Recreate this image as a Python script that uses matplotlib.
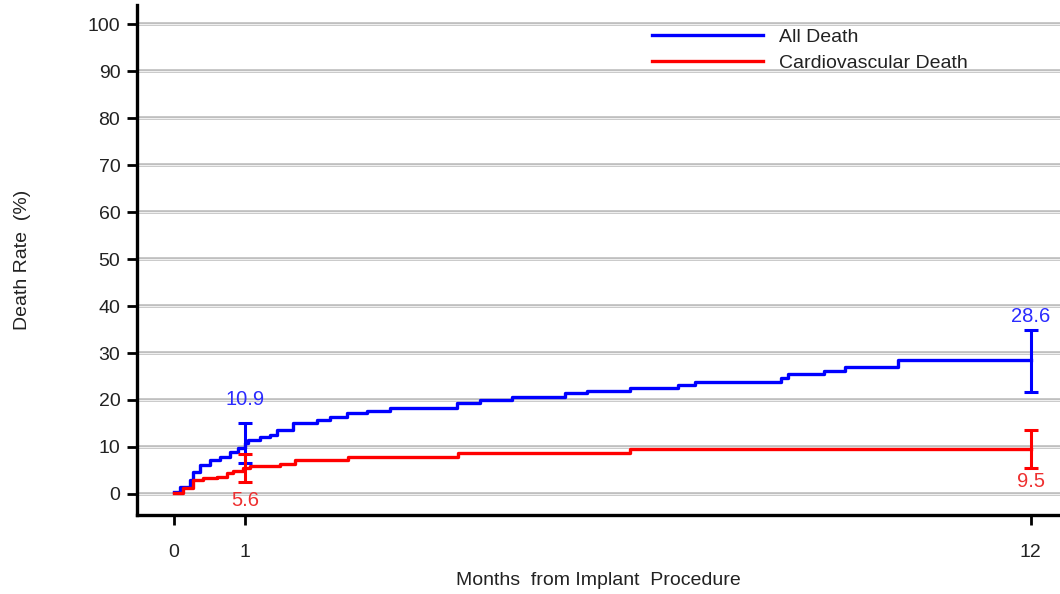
import matplotlib
matplotlib.use("Agg")
import matplotlib.pyplot as plt

plt.rcParams["font.family"] = ["Liberation Sans", "DejaVu Sans"]

# Kaplan-Meier style step curves (months, death rate %)
all_t = [0, 0.08, 0.22, 0.27, 0.36, 0.5, 0.64, 0.78, 0.9, 1.0, 1.04, 1.2, 1.34, 1.44, 1.67,
         2.0, 2.18, 2.42, 2.7, 3.02, 3.96, 4.29, 4.73, 5.48, 5.78, 6.39, 7.06, 7.3, 8.5,
         8.6, 9.1, 9.4, 10.14, 12.0]
all_v = [0.4, 1.5, 3.0, 4.7, 6.2, 7.2, 7.9, 9.0, 9.8, 10.9, 11.5, 12.1, 12.6, 13.6, 15.1,
         15.8, 16.4, 17.2, 17.7, 18.3, 19.4, 20.0, 20.7, 21.5, 22.0, 22.5, 23.2, 23.9, 24.7,
         25.6, 26.2, 27.1, 28.6, 28.6]
cv_t = [0, 0.13, 0.27, 0.41, 0.6, 0.74, 0.83, 0.97, 1.06, 1.48, 1.69, 2.44, 3.98, 6.39, 12.0]
cv_v = [0.2, 1.3, 3.0, 3.4, 3.7, 4.4, 4.9, 5.6, 6.0, 6.4, 7.2, 7.9, 8.7, 9.5, 9.5]

# point estimates with confidence limits at 1 and 12 months
ci_t = [1, 12]
all_est = [10.9, 28.6]
all_lo = [6.6, 21.7]
all_hi = [15.1, 35.0]
cv_est = [5.6, 9.5]
cv_lo = [2.5, 5.5]
cv_hi = [8.4, 13.6]

yticks = list(range(0, 101, 10))
xticks = [0, 1, 12]

fig = plt.figure(figsize=(10.6, 5.94), dpi=100)
ax = fig.add_axes([0.1292, 0.133, 0.8708, 0.858])
ax.set_xlim(-0.518, 12.41)
ax.set_ylim(-4.48, 104.0)

for y in yticks:
    ax.axhline(y, color="#bdbdbd", lw=2.6, zorder=0)
    ax.axhline(y, color="#efefef", lw=0.8, zorder=0)

blue, red = "#0000ff", "#ff0000"
ax.step(all_t, all_v, where="post", color=blue, lw=2.4, label="All Death", zorder=3)
ax.step(cv_t, cv_v, where="post", color=red, lw=2.4, label="Cardiovascular Death", zorder=3)

for est, lo, hi, col in [(all_est, all_lo, all_hi, blue), (cv_est, cv_lo, cv_hi, red)]:
    err = [[e - l for e, l in zip(est, lo)], [h - e for e, h in zip(est, hi)]]
    ax.errorbar(ci_t, est, yerr=err, fmt="none", ecolor=col, elinewidth=2.2,
                capsize=5, capthick=2.2, zorder=4)

for t, e in zip(ci_t, all_est):
    ax.annotate(f"{e:.1f}", (t, e), xytext=(0, 31), textcoords="offset points",
                ha="center", va="center", color="#2b2bff", fontsize=14.5)
for t, e in zip(ci_t, cv_est):
    ax.annotate(f"{e:.1f}", (t, e), xytext=(0, -23.5), textcoords="offset points",
                ha="center", va="center", color="#ee3030", fontsize=14.5)

ax.set_yticks(yticks)
ax.set_xticks(xticks)
ax.tick_params(axis="both", direction="out", length=7, width=2, labelsize=14,
               labelcolor="#222222")
ax.tick_params(axis="y", pad=5)
ax.tick_params(axis="x", pad=14)
for s in ["top", "right"]:
    ax.spines[s].set_visible(False)
for s in ["left", "bottom"]:
    ax.spines[s].set_linewidth(2.4)

ax.set_ylabel("Death Rate  (%)", fontsize=14, color="#222222", labelpad=41)
ax.set_xlabel("Months  from Implant  Procedure", fontsize=14, color="#222222", labelpad=8)

ax.legend(loc="upper left", bbox_to_anchor=(0.539, 0.99), frameon=False, fontsize=14,
          handlelength=5.7, handletextpad=0.85, labelspacing=0.45, labelcolor="#222222")

fig.savefig("out.png", dpi=100)
